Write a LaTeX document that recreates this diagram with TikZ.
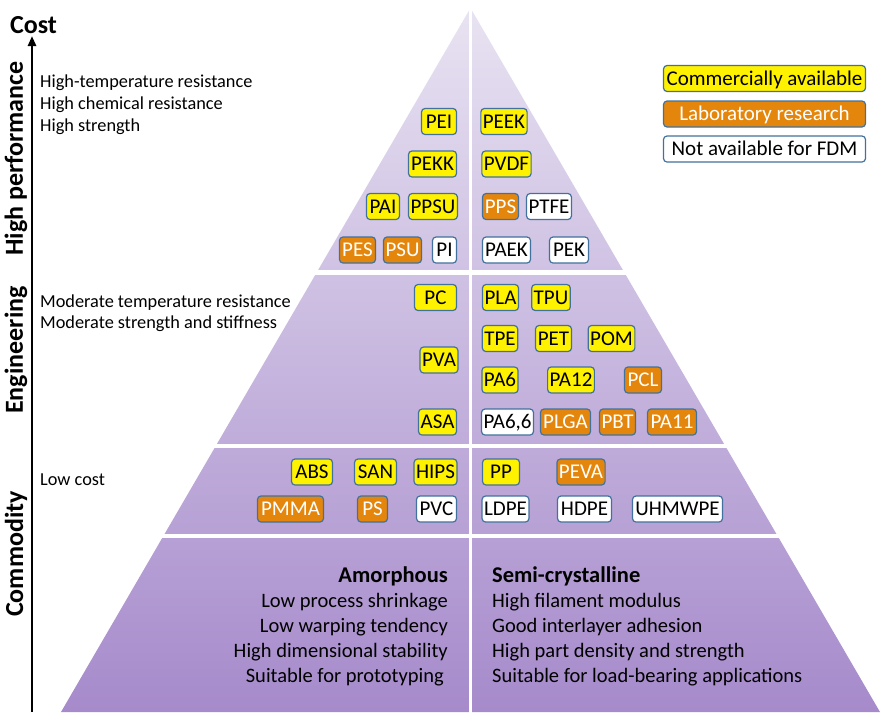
\documentclass[tikz,border=0pt]{standalone}
\usepackage{fontspec}
\setmainfont{Carlito}
\usetikzlibrary{arrows.meta}
\definecolor{boxline}{RGB}{65,113,156}
\definecolor{labor}{RGB}{228,134,12}
\definecolor{pyrtop}{RGB}{232,227,242}
\definecolor{pyrbot}{RGB}{166,138,203}

\begin{document}
\begin{tikzpicture}[x=1pt,y=-1pt,
   poly/.style={draw=boxline,line width=1.2pt,rounded corners=3.5pt,inner xsep=2pt,inner ysep=0pt,
     minimum height=26pt,text height=14.5pt,text depth=1pt,font=\fontsize{21}{25}\selectfont},
   com/.style={poly,fill=yellow},
   lab/.style={poly,fill=labor,text=white},
   nofdm/.style={poly,fill=white},
   tier/.style={font=\fontsize{26}{30}\selectfont\bfseries,rotate=90},
   prop/.style={font=\fontsize{18.3}{22}\selectfont,anchor=base west,inner sep=0pt},
   amor/.style={font=\fontsize{20.5}{25}\selectfont,anchor=base east,inner sep=0pt},
   semi/.style={font=\fontsize{20.5}{25}\selectfont,anchor=base west,inner sep=0pt}]
   \useasboundingbox (0,0) rectangle (880,716);
   % pyramid
   \shade[top color=pyrtop,bottom color=pyrbot] (470.5,8) -- (880,712) -- (61,712) -- cycle;
   \fill[white] (250,270) rectangle (880,275);
   \fill[white] (150,443.5) rectangle (880,448);
   \fill[white] (100,534) rectangle (880,538);
   \fill[white] (469.2,0) rectangle (471.8,716);
   % cost axis
   \coordinate (axbot) at (32,712);
   \coordinate (axtop) at (32,36);
   \draw[line width=2.6pt,-{Triangle[length=10pt,width=8pt]}] (axbot) -- (axtop);
   \node[font=\fontsize{26}{30}\selectfont\bfseries,anchor=base,inner sep=0pt] (cost) at (33.5,33) {Cost};
   \node[tier] (highperf) at (16,158.5) {High performance};
   \node[tier] (engin) at (16,350) {Engineering};
   \node[tier] (commod) at (16,554) {Commodity};
   % properties
   \node[prop] (hp1) at (40,87) {High-temperature resistance};
   \node[prop] (hp2) at (40,109) {High chemical resistance};
   \node[prop] (hp3) at (40,131) {High strength};
   \node[prop] (en1) at (40,307.5) {Moderate temperature resistance};
   \node[prop] (en2) at (40,328.5) {Moderate strength and stiffness};
   \node[prop] (co1) at (40,485) {Low cost};
   % legend
   \node[com,minimum width=202pt] (legcom) at (764.5,78.5) {Commercially available};
   \node[lab,minimum width=202pt] (leglab) at (764.5,114) {Laboratory research};
   \node[nofdm,minimum width=202pt] (legno) at (764.5,149) {Not available for FDM};
   % high performance
   \node[com,minimum width=35pt] (pei) at (439,121.5) {PEI};
   \node[com,minimum width=45pt] (peek) at (504,121.5) {PEEK};
   \node[com,minimum width=48pt] (pekk) at (432.5,164) {PEKK};
   \node[com,minimum width=48pt] (pvdf) at (506.5,164) {PVDF};
   \node[com,minimum width=33pt] (pai) at (383,206.5) {PAI};
   \node[com,minimum width=47pt] (ppsu) at (433,206.5) {PPSU};
   \node[lab,minimum width=36pt] (pps) at (500.5,206.5) {PPS};
   \node[nofdm,minimum width=43pt] (ptfe) at (549,206.5) {PTFE};
   \node[lab,minimum width=36pt] (pes) at (357.5,250) {PES};
   \node[lab,minimum width=36pt] (psu) at (402.5,250) {PSU};
   \node[nofdm,minimum width=24pt] (pi) at (444.5,250) {PI};
   \node[nofdm,minimum width=48pt] (paek) at (506.5,250) {PAEK};
   \node[nofdm,minimum width=39pt] (pek) at (569,250) {PEK};
   % engineering
   \node[com,minimum width=42pt] (pc) at (435.5,297.5) {PC};
   \node[com,minimum width=36pt] (pla) at (500.5,297.5) {PLA};
   \node[com,minimum width=35pt] (tpu) at (551,297.5) {TPU};
   \node[com,minimum width=35pt] (tpe) at (500,338.5) {TPE};
   \node[com,minimum width=36pt] (pet) at (553.5,338.5) {PET};
   \node[com,minimum width=44pt] (pom) at (611.5,338.5) {POM};
   \node[com,minimum width=35pt] (pva) at (439,360) {PVA};
   \node[com,minimum width=35pt] (pa6) at (500,380) {PA6};
   \node[com,minimum width=43pt] (pa12) at (571,380) {PA12};
   \node[lab,minimum width=37pt] (pcl) at (643,380) {PCL};
   \node[com,minimum width=38pt] (asa) at (437.5,422) {ASA};
   \node[nofdm,minimum width=50pt] (pa66) at (507.5,422) {PA6,6};
   \node[lab,minimum width=50pt] (plga) at (565.5,422) {PLGA};
   \node[lab,minimum width=36pt] (pbt) at (617.5,422) {PBT};
   \node[lab,minimum width=49pt] (pa11) at (672,422) {PA11};
   % commodity
   \node[com,minimum width=41pt] (abs) at (312,472) {ABS};
   \node[com,minimum width=42pt] (san) at (375.5,472) {SAN};
   \node[com,minimum width=42pt] (hips) at (435.5,472) {HIPS};
   \node[com,minimum width=37pt] (pp) at (501,472) {PP};
   \node[lab,minimum width=47pt] (peva) at (581,472) {PEVA};
   \node[lab,minimum width=66pt] (pmma) at (290.5,509) {PMMA};
   \node[lab,minimum width=30pt] (ps) at (372.5,509) {PS};
   \node[nofdm,minimum width=40pt] (pvc) at (436.5,509) {PVC};
   \node[nofdm,minimum width=46pt] (ldpe) at (505.5,509) {LDPE};
   \node[nofdm,minimum width=54pt] (hdpe) at (584.5,509) {HDPE};
   \node[nofdm,minimum width=90pt] (uhmwpe) at (677.5,509) {UHMWPE};
   % amorphous / semi-crystalline
   \node[amor,font=\fontsize{22.5}{27}\selectfont\bfseries] (amhead) at (448,582) {Amorphous};
   \node[amor] (am1) at (448,607) {Low process shrinkage};
   \node[amor] (am2) at (448,632) {Low warping tendency};
   \node[amor] (am3) at (448,657) {High dimensional stability};
   \node[amor] (am4) at (444,682) {Suitable for prototyping};
   \node[semi,font=\fontsize{22.5}{27}\selectfont\bfseries] (sehead) at (492,582) {Semi-crystalline};
   \node[semi] (se1) at (492,607) {High filament modulus};
   \node[semi] (se2) at (492,632) {Good interlayer adhesion};
   \node[semi] (se3) at (492,657) {High part density and strength};
   \node[semi] (se4) at (492,682) {Suitable for load-bearing applications};
\end{tikzpicture}
\end{document}
